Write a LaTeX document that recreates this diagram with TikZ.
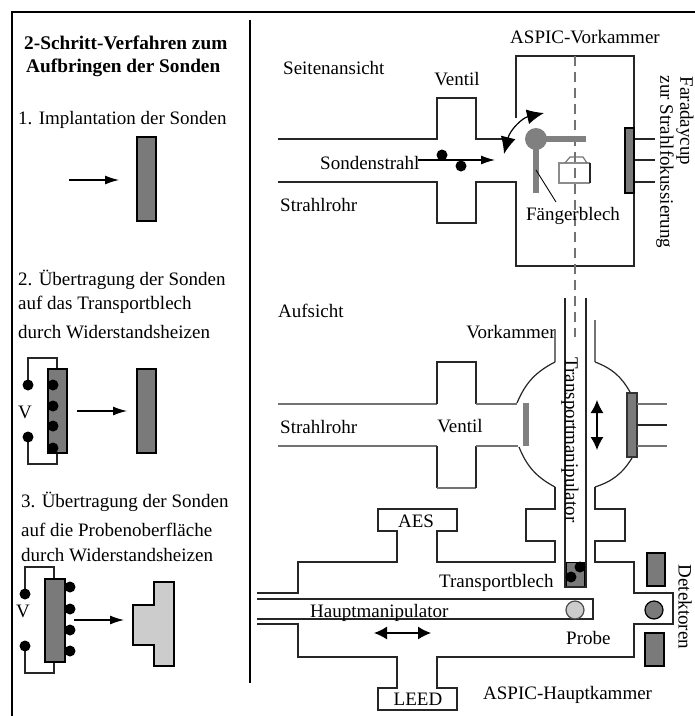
\documentclass[tikz,border=0pt]{standalone}
\usepackage{fontspec}
\setmainfont{Liberation Serif}
\usetikzlibrary{arrows.meta}
\definecolor{blechgrau}{HTML}{7A7A7A}
\definecolor{probengrau}{HTML}{CCCCCC}
\begin{document}
\begin{tikzpicture}[x=1pt, y=-1pt]
 \tikzstyle{beschr}=[anchor=west, inner sep=0pt, text=black, font=\fontsize{19}{22}\selectfont]
 \tikzstyle{mitte}=[beschr, anchor=center]
 \tikzstyle{titel}=[beschr, font=\fontsize{19.3}{22}\selectfont\bfseries]
 \tikzstyle{senkr}=[mitte, rotate=-90]
 \tikzstyle{wand}=[line width=1.2pt, draw=black!85]
 \tikzstyle{grauwand}=[line width=1.2pt, draw=black!55]
 \tikzstyle{blech}=[draw=black, line width=1.2pt, fill=blechgrau]
 \tikzstyle{balken}=[line width=6pt, draw=black!50]
 \tikzstyle{sonde}=[circle, fill=black, inner sep=0pt, minimum size=11pt]
 \tikzstyle{strahl}=[-{Latex[length=14pt,width=9pt]}, line width=1.2pt]
 \tikzstyle{schieb}=[{Latex[length=13pt,width=13pt]}-{Latex[length=13pt,width=13pt]}, line width=1.2pt]
 \useasboundingbox (0,0) rectangle (695,716);
 %
 \draw[line width=1.4pt] (695,12)--(12,12)--(12,716);
 \draw[line width=1.2pt] (250,20)--(250,683);
 %
 \node[titel] (Titel1) at (24,43) {2-Schritt-Verfahren zum};
 \node[titel] (Titel2) at (26,68) {Aufbringen der Sonden};
 \node[beschr] (S1) at (18,120) {1. Implantation der Sonden};
 \node[beschr] (S2a) at (18,280) {2. Übertragung der Sonden};
 \node[beschr] (S2b) at (18,305) {auf das Transportblech};
 \node[beschr] (S2c) at (18,332) {durch Widerstandsheizen};
 \node[beschr] (S3a) at (21,502) {3. Übertragung der Sonden};
 \node[beschr] (S3b) at (21,530) {auf die Probenoberfläche};
 \node[beschr] (S3c) at (21,555) {durch Widerstandsheizen};
 %% Schritt 1
 \draw[blech] (137,137) rectangle (156,221);
 \draw[strahl] (69,180)--(119,180);
 %% Schritt 2
 \draw[wand] (28,385)--(28,358)--(57,358)--(57,369);
 \draw[wand] (28,437)--(28,464)--(57,464)--(57,453);
 \draw[blech] (48,369) rectangle (67,453);
 \draw[blech] (137,369) rectangle (156,453);
 \node[sonde] (D2a) at (28,385) {};
 \node[sonde] (D2b) at (28,437) {};
 \foreach \y/\n in {385/a,406/b,426/c,448/d} \node[sonde] (B2\n) at (53,\y) {};
 \node[mitte] (V2) at (25,412) {V};
 \draw[strahl] (77,411)--(127,411);
 %% Schritt 3
 \draw[wand] (25,594)--(25,567)--(54,567)--(54,579);
 \draw[wand] (25,646)--(25,673)--(54,673)--(54,662);
 \draw[blech] (45,579) rectangle (65,662);
 \node[sonde] (D3a) at (25,594) {};
 \node[sonde] (D3b) at (25,646) {};
 \foreach \y/\n in {587/a,609/b,630/c,651/d} \node[sonde] (B3\n) at (70,\y) {};
 \node[mitte] (V3) at (23,611) {V};
 \draw[strahl] (74,620)--(124,620);
 \draw[draw=black, line width=1.2pt, fill=probengrau] (154,582)--(174,582)--(174,666)--(154,666)--(154,645)--(133,645)--(133,605)--(154,605)--cycle;
 %% Seitenansicht
 \node[mitte] (ASPICV) at (585,37) {ASPIC-Vorkammer};
 \node[beschr] (Seite) at (283,68) {Seitenansicht};
 \node[mitte] (Ventil1) at (457,79) {Ventil};
 \node[beschr] (Strahl) at (320,163) {Sondenstrahl};
 \node[beschr] (Rohr1) at (280,205) {Strahlrohr};
 %
 \draw[wand] (505,139)--(476,139)--(476,98)--(437,98)--(437,139)--(278,139);
 \draw[wand] (278,182)--(437,182)--(437,223)--(476,223)--(476,182)--(516,182)--(516,266)--(634,266)--(634,56)--(516,56)--(516,118);
 \draw[grauwand, dashed, dash pattern=on 10pt off 6pt] (575,56)--(575,337);
 \draw[strahl] (418,160)--(495,160);
 \node[sonde] (S1a) at (442,155) {};
 \node[sonde] (S1b) at (461,166) {};
 \draw[{Latex[length=17pt,width=15pt]}-{Latex[length=17pt,width=15pt]}, line width=1.2pt] (504,154) .. controls (510,130) and (522,118) .. (544,113);
 \draw[balken] (536,139)--(586,139);
 \draw[balken] (536,139)--(536,193);
 \fill[black!50] (536,139) circle (11);
 \draw[line width=0.9pt] (536,170)--(556,202);
 \draw[grauwand, draw=black!45] (590,183)--(559,183)--(559,163)--(590,163);
 \draw[wand] (590,163)--(590,183);
 \draw[grauwand] (565,163)--(570,157)--(583,157)--(587,163);
 \node[mitte] (Faenger) at (573,216) {Fängerblech};
 \foreach \y in {139,160,182} \draw[wand] (634,\y)--(655,\y);
 \draw[blech] (625,128) rectangle (634,193);
 \node[senkr] (Cup) at (685,121) {Faradaycup};
 \node[senkr] (Fokus) at (665,162) {zur Strahlfokussierung};
 %% Aufsicht
 \node[beschr] (Auf) at (278,311) {Aufsicht};
 \node[mitte] (Vor) at (511,332) {Vorkammer};
 \node[beschr] (Rohr2) at (280,427) {Strahlrohr};
 \node[mitte] (Ventil2) at (460,426) {Ventil};
 %
 \draw[grauwand] (278,404)--(437,404);
 \draw[wand] (437,404)--(437,362)--(476,362)--(476,404);
 \draw[grauwand] (476,404)--(517,404);
 \draw[grauwand] (278,446)--(437,446);
 \draw[wand] (437,446)--(437,488);
 \draw[grauwand] (437,488)--(476,488);
 \draw[wand] (476,488)--(476,446);
 \draw[grauwand] (476,446)--(518,446);
 \draw[grauwand] (555,330)--(555,362);
 \draw[grauwand] (595,320)--(595,362);
 \draw[wand] (555,362) to[bend right=20] (517,403);
 \draw[wand] (595,362) to[bend left=20] (630,392);
 \draw[wand] (519,447) to[bend right=20] (555,487);
 \draw[wand] (632,458) to[bend left=20] (595,487);
 \draw[balken, line width=6pt] (526,403)--(526,446);
 \draw[blech, draw=black!80] (627,393) rectangle (637,457);
 \draw[grauwand] (637,404)--(667,404);
 \draw[wand] (637,425)--(667,425);
 \draw[grauwand] (637,446)--(667,446);
 \draw[schieb] (597,400)--(597,450);
 %
 \draw[draw=black, fill=blechgrau, line width=0.8pt] (566,562) rectangle (584,587);
 \draw[wand] (565,298)--(565,587)--(586,587)--(586,298);
 \node[sonde] (T1) at (580,567) {};
 \node[sonde] (T2) at (571,577) {};
 \node[senkr] (TMani) at (570,440) {Transportmanipulator};
 %% Hauptkammer
 \draw[wand] (555,487)--(555,509)--(526,509)--(526,541)--(555,541)--(555,562)--(437,562)--(437,531)--(457,531)--(457,509)--(378,509)--(378,531)--(397,531)--(397,562)--(298,562)--(298,593)--(257,593);
 \draw[wand] (595,487)--(595,509)--(625,509)--(625,541)--(595,541)--(595,562)--(634,562)--(634,593)--(673,593)--(673,624)--(634,624)--(634,657)--(437,657)--(437,688)--(457,688)--(457,710)--(378,710)--(378,688)--(397,688)--(397,657)--(298,657)--(298,624)--(257,624);
 \draw[wand] (257,599)--(593,599)--(593,619)--(257,619);
 \draw[draw=black!70, line width=1.2pt, fill=probengrau] (575,610) circle (9);
 \draw[blech] (654,610) circle (9);
 \draw[blech] (647,553) rectangle (665,586);
 \draw[blech] (645,633) rectangle (664,666);
 \draw[schieb] (374,633)--(431,633);
 %
 \node[mitte] (AES) at (416,521) {AES};
 \node[mitte] (LEED) at (418,699) {LEED};
 \node[beschr] (TBlech) at (439,583) {Transportblech};
 \node[beschr] (HMani) at (310,613) {Hauptmanipulator};
 \node[beschr] (Probe) at (566,638) {Probe};
 \node[beschr] (ASPICH) at (483,695) {ASPIC-Hauptkammer};
 \node[senkr] (Det) at (685,607) {Detektoren};
\end{tikzpicture}
\end{document}
